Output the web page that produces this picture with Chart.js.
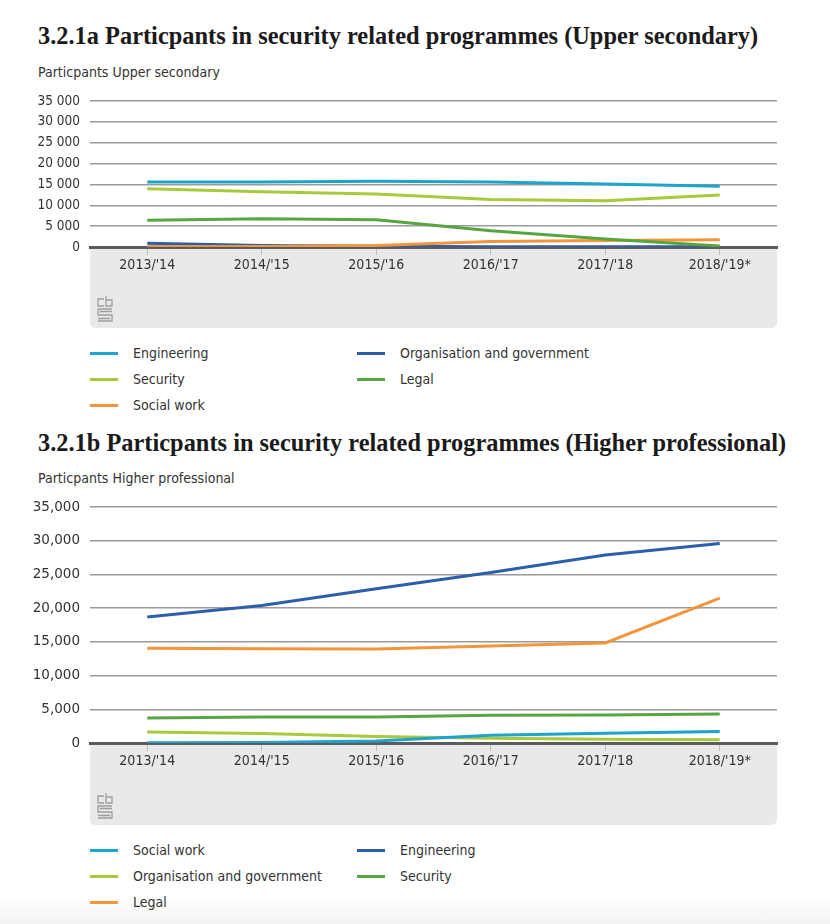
<!DOCTYPE html>
<html>
<head>
<meta charset="utf-8">
<script src="https://cdn.jsdelivr.net/npm/chart.js@4.4.1/dist/chart.umd.min.js"></script>
<style>
body{margin:0;width:830px;height:924px;position:relative;overflow:hidden;
  background:linear-gradient(to bottom,#fff 0,#fff 895px,#f3f3f3 924px);}
.title{position:absolute;left:38px;font:bold 24.4px "Liberation Serif";color:#1a1a1a;white-space:nowrap;line-height:28px;}
.sub{position:absolute;left:38px;font:14px "DejaVu Sans Condensed";color:#333;line-height:18px;}
.box{position:absolute;left:0;}
.legend{position:absolute;left:90px;width:600px;font:14px "DejaVu Sans Condensed";color:#333;}
.item{display:inline-flex;align-items:center;width:267px;height:26px;vertical-align:top;}
.swatch{width:28px;height:3px;margin-right:15px;}
</style>
</head>
<body>
<div class="title" style="top:22px">3.2.1a Particpants in security related programmes (Upper secondary)</div>
<div class="sub" style="top:63px">Particpants Upper secondary</div>
<div class="box" style="top:83px"><canvas id="upper" width="830" height="249"></canvas></div>
<div class="legend" id="legendUpper" style="top:340px"></div>

<div class="title" style="top:429px">3.2.1b Particpants in security related programmes (Higher professional)</div>
<div class="sub" style="top:469px">Particpants Higher professional</div>
<div class="box" style="top:489px"><canvas id="higher" width="830" height="341"></canvas></div>
<div class="legend" id="legendHigher" style="top:837px"></div>

<script>
var years = ["2013/'14", "2014/'15", "2015/'16", "2016/'17", "2017/'18", "2018/'19*"];
var yTicks = [0, 5000, 10000, 15000, 20000, 25000, 30000, 35000];

// 3.2.1a Upper secondary
var upperNames = ['Engineering', 'Organisation and government', 'Security', 'Legal', 'Social work'];
var upperEngineering = [15600, 15600, 15800, 15600, 15100, 14600];
var upperOrgGov = [870, 350, 150, 80, 60, 50];
var upperSecurity = [13950, 13250, 12700, 11400, 11100, 12500];
var upperLegal = [6400, 6800, 6550, 3900, 1900, 250];
var upperSocialWork = [100, 120, 350, 1340, 1580, 1730];

// 3.2.1b Higher professional
var higherNames = ['Social work', 'Engineering', 'Organisation and government', 'Security', 'Legal'];
var higherSocialWork = [50, 80, 300, 1150, 1450, 1720];
var higherEngineering = [18700, 20400, 22900, 25300, 27900, 29600];
var higherOrgGov = [1620, 1400, 950, 700, 550, 490];
var higherSecurity = [3720, 3850, 3850, 4100, 4150, 4300];
var higherLegal = [14070, 14000, 13950, 14400, 14850, 21500];

var LIGHTBLUE = '#1fa3cf', DARKBLUE = '#2c5ea9', YELLOWGREEN = '#a8c93c', GREEN = '#55a640', ORANGE = '#f3953a';

/*grey panel under the x axis with the small logo*/
var bottomPanel = {
    id: 'bottomPanel',
    beforeDraw: function (chart, args, opts) {
        var ctx = chart.ctx, a = chart.chartArea;
        ctx.save();
        ctx.fillStyle = '#e9e9e9';
        ctx.beginPath();
        ctx.roundRect(a.left, a.bottom, a.right - a.left, opts.height, [0, 0, 5, 5]);
        ctx.fill();

        var x = a.left + 8, y = a.bottom + opts.height - 32;
        ctx.strokeStyle = '#9d9d9d';
        ctx.lineWidth = 1.3;
        ctx.beginPath();
        // c
        ctx.moveTo(x + 6, y + 3); ctx.lineTo(x, y + 3); ctx.lineTo(x, y + 10); ctx.lineTo(x + 6, y + 10);
        // b
        ctx.moveTo(x + 8, y); ctx.lineTo(x + 8, y + 10); ctx.lineTo(x + 14, y + 10); ctx.lineTo(x + 14, y + 4); ctx.lineTo(x + 8, y + 4);
        // s
        ctx.moveTo(x + 14, y + 13); ctx.lineTo(x, y + 13); ctx.lineTo(x, y + 19); ctx.lineTo(x + 14, y + 19);
        ctx.lineTo(x + 14, y + 25); ctx.lineTo(x, y + 25);
        ctx.moveTo(x + 14, y + 15.5); ctx.lineTo(x + 2.5, y + 15.5); ctx.lineTo(x + 2.5, y + 16.5);
        ctx.moveTo(x + 11.5, y + 21.5); ctx.lineTo(x + 11.5, y + 22.5); ctx.lineTo(x, y + 22.5);
        ctx.stroke();
        ctx.restore();
    }
};

function spaceFmt(v) { return String(v).replace(/\B(?=(\d{3})+(?!\d))/g, ' '); }
function commaFmt(v) { return String(v).replace(/\B(?=(\d{3})+(?!\d))/g, ','); }

function draw_graph(id, names, series, colors, order, fmt, yFont, panelH, axisH) {
    var datasets = names.map(function (name, i) {
        return {
            label: name,
            data: series[i],
            borderColor: colors[i],
            backgroundColor: colors[i],
            borderWidth: 3,
            pointRadius: 0,
            tension: 0,
            fill: false,
            order: order[i]
        };
    });

    new Chart(document.getElementById(id), {
        type: 'line',
        data: { labels: years, datasets: datasets },
        plugins: [bottomPanel],
        options: {
            responsive: false,
            animation: false,
            layout: { padding: { top: 5, right: 53, left: 0, bottom: 0 } },
            plugins: {
                legend: { display: false },
                tooltip: { enabled: false },
                bottomPanel: { height: panelH }
            },
            scales: {
                x: {
                    offset: true,
                    grid: { drawOnChartArea: false, drawTicks: true, tickLength: 8, color: '#bdbdbd', lineWidth: 1 },
                    border: { display: true, color: '#5b5b5b', width: 3 },
                    ticks: {
                        font: { family: 'DejaVu Sans Condensed', size: 14 },
                        color: '#333', padding: 2, maxRotation: 0, autoSkip: false
                    },
                    afterFit: function (scale) { scale.height = axisH; }
                },
                y: {
                    min: yTicks[0],
                    max: yTicks[yTicks.length - 1],
                    afterBuildTicks: function (scale) {
                        scale.ticks = yTicks.map(function (v) { return { value: v }; });
                    },
                    ticks: { callback: fmt, font: yFont, color: '#333', padding: 10 },
                    grid: { color: '#9a9a9a', lineWidth: 1.5, drawTicks: false },
                    border: { display: false },
                    afterFit: function (scale) { scale.width = 90; }
                }
            }
        }
    });

    /*legend in two columns, built from the same names and colours*/
    var html = '';
    names.forEach(function (name, i) {
        html += '<span class="item"><span class="swatch" style="background:' + colors[i] + '"></span>' + name + '</span>';
        if (i % 2 === 1) html += '<br>';
    });
    return html;
}

document.getElementById('legendUpper').innerHTML = draw_graph('upper', upperNames,
    [upperEngineering, upperOrgGov, upperSecurity, upperLegal, upperSocialWork],
    [LIGHTBLUE, DARKBLUE, YELLOWGREEN, GREEN, ORANGE],
    [0, 4, 1, 2, 3],
    spaceFmt, { family: 'DejaVu Sans Condensed', size: 13.5 }, 81, 85);

document.getElementById('legendHigher').innerHTML = draw_graph('higher', higherNames,
    [higherSocialWork, higherEngineering, higherOrgGov, higherSecurity, higherLegal],
    [LIGHTBLUE, DARKBLUE, YELLOWGREEN, GREEN, ORANGE],
    [0, 1, 3, 2, 4],
    commaFmt, { family: 'DejaVu Sans', size: 13.5 }, 82, 87);
</script>
</body>
</html>
